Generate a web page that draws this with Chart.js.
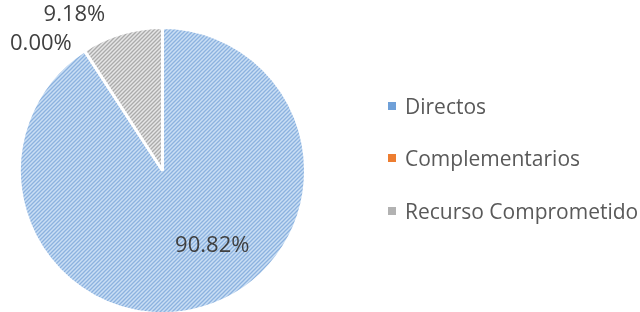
<!DOCTYPE html>
<html>
<head>
<meta charset="utf-8">
<script src="https://cdn.jsdelivr.net/npm/chart.js@4.4.0/dist/chart.umd.min.js"></script>
<style>
  html, body { margin: 0; padding: 0; background: #ffffff; overflow: hidden; }
  #wrap { position: relative; width: 640px; height: 312px; overflow: hidden; }
  #legend { position: absolute; left: 388px; top: 0; font-family: "Open Sans", sans-serif; font-size: 21px; color: #595959; }
  .item { position: absolute; left: 0; white-space: nowrap; height: 24px; line-height: 24px; }
  .box { position: absolute; left: 0; top: 8px; width: 8px; height: 8px; }
  .txt { position: absolute; left: 17px; top: 0; }
</style>
</head>
<body>
<div id="wrap">
  <canvas id="chart" width="640" height="315"></canvas>
  <div id="legend"></div>
</div>
<script>
// chart data
const labels = ['Directos', 'Complementarios', 'Recurso Comprometido'];
const values = [90.82, 0.00, 9.18];

// colours: base, stripe
const baseColors = ['#c9def4', '#ed7d31', '#e6e6e6'];
const stripeColors = ['#8cb2df', '#ed7d31', '#ababab'];
const legendColors = ['#6fa0d8', '#ed7d31', '#b2b2b2'];

// label placement relative to slice: angle shift (deg) and radius factor
const labelShift = [-17, -10.7, -13];
const labelRadius = [0.63, 1.23, 1.25];

// diagonal "/" hatch
const makeHatch = (base, stripe) => {
  const size = 4;
  const c = document.createElement('canvas');
  c.width = size;
  c.height = size;
  const g = c.getContext('2d');
  g.fillStyle = base;
  g.fillRect(0, 0, size, size);
  g.strokeStyle = stripe;
  g.lineWidth = 1.3;
  g.beginPath();
  g.moveTo(-1, size + 1);
  g.lineTo(size + 1, -1);
  g.moveTo(-1, 1);
  g.lineTo(1, -1);
  g.moveTo(size - 1, size + 1);
  g.lineTo(size + 1, size - 1);
  g.stroke();
  return g.createPattern(c, 'repeat');
};

const fills = baseColors.map((b, i) => makeHatch(b, stripeColors[i]));

const pctLabels = {
  id: 'pctLabels',
  afterDatasetsDraw: (chart) => {
    const ctx = chart.ctx;
    const meta = chart.getDatasetMeta(0);
    ctx.save();
    ctx.font = '22px "Open Sans", sans-serif';
    ctx.fillStyle = '#404040';
    ctx.textAlign = 'center';
    ctx.textBaseline = 'middle';
    meta.data.forEach((arc, i) => {
      const p = arc.getProps(['x', 'y', 'startAngle', 'endAngle', 'outerRadius'], true);
      const a = (p.startAngle + p.endAngle) / 2 + labelShift[i] * Math.PI / 180;
      const r = p.outerRadius * labelRadius[i];
      ctx.fillText(values[i].toFixed(2) + '%', p.x + Math.cos(a) * r, p.y + Math.sin(a) * r);
    });
    ctx.restore();
  }
};

const chart = new Chart(document.getElementById('chart'), {
  type: 'pie',
  data: {
    labels: labels,
    datasets: [{
      data: values,
      backgroundColor: fills,
      borderColor: '#ffffff',
      borderWidth: 3
    }]
  },
  options: {
    responsive: false,
    animation: false,
    layout: { padding: { left: 18, top: 26, right: 333, bottom: 0 } },
    plugins: {
      legend: { display: false },
      tooltip: { enabled: false }
    }
  },
  plugins: [pctLabels]
});

// legend built from the same arrays
const legendTops = [94, 146, 199];
const legendEl = document.getElementById('legend');
labels.forEach((name, i) => {
  const item = document.createElement('div');
  item.className = 'item';
  item.style.top = legendTops[i] + 'px';
  item.innerHTML = '<span class="box" style="background:' + legendColors[i] + '"></span><span class="txt">' + name + '</span>';
  legendEl.appendChild(item);
});
</script>
</body>
</html>
